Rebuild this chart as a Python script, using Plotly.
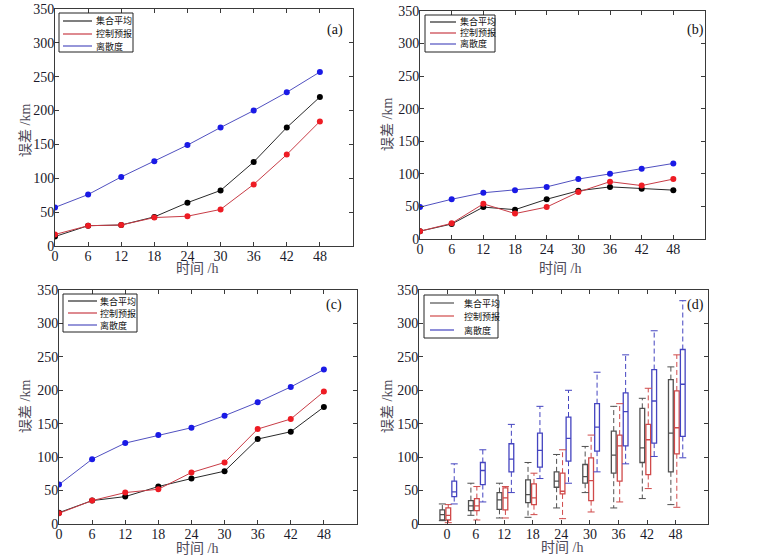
import plotly.graph_objects as go

hours = [0, 6, 12, 18, 24, 30, 36, 42, 48]
names = ["集合平均", "控制预报", "离散度"]

# (a)
a_mean = [14, 30, 31, 43, 64, 82, 124, 175, 220]
a_ctrl = [17, 30, 31, 42, 44, 54, 91, 135, 184]
a_spread = [57, 76, 102, 125, 149, 175, 200, 227, 257]
# (b)
b_mean = [12, 23, 49, 45, 61, 74, 80, 77, 75]
b_ctrl = [12, 24, 54, 39, 49, 72, 88, 82, 92]
b_spread = [49, 61, 71, 75, 80, 92, 100, 108, 116]
# (c)
c_mean = [17, 35, 41, 56, 68, 79, 127, 138, 175]
c_ctrl = [16, 35, 47, 52, 77, 92, 142, 157, 198]
c_spread = [59, 97, 121, 133, 144, 162, 182, 205, 231]

# (d) box stats: lower whisker, q1, median, q3, upper whisker
d_mean_lo = [5, 13, 9, 10, 24, 47, 24, 38, 29]
d_mean_q1 = [6, 20, 22, 32, 55, 61, 76, 92, 78]
d_mean_med = [14, 27, 36, 44, 64, 71, 103, 114, 136]
d_mean_q3 = [21, 35, 47, 66, 78, 89, 139, 173, 216]
d_mean_hi = [30, 61, 61, 92, 104, 116, 176, 188, 235]

d_ctrl_lo = [2, 6, 9, 14, 8, 18, 33, 53, 25]
d_ctrl_q1 = [6, 20, 21, 29, 45, 35, 64, 74, 105]
d_ctrl_med = [13, 27, 39, 39, 49, 65, 117, 126, 144]
d_ctrl_q3 = [24, 38, 54, 60, 76, 99, 133, 149, 199]
d_ctrl_hi = [29, 56, 56, 76, 111, 133, 180, 203, 253]

d_spread_lo = [30, 33, 47, 68, 61, 78, 90, 101, 99]
d_spread_q1 = [41, 59, 78, 85, 94, 109, 117, 121, 131]
d_spread_med = [48, 80, 97, 110, 128, 145, 168, 184, 209]
d_spread_q3 = [64, 92, 120, 136, 160, 180, 196, 231, 261]
d_spread_hi = [90, 111, 149, 176, 200, 227, 253, 289, 334]

SERIF = "Liberation Serif, Noto Sans CJK SC"
CJK = "Noto Sans CJK SC"
W, H = 778, 556


def px(x):
    return x / W


def py(y):
    return 1 - y / H


line_cols = ["#2a2a2a", "#c83c46", "#5050c0"]
mark_cols = ["#000000", "#ee1c24", "#1a1ae6"]
box_cols = ["#505050", "#d04a4a", "#4444c0"]
box_off = [-1.0, 0.25, 1.5]

# plot areas in page pixels: x0, x1, y0(top), y1(bottom)
panels = [(55, 353, 9, 246), (420, 705, 11, 239), (59, 357, 290, 524), (419, 708, 290, 524)]
labels = ["(a)", "(b)", "(c)", "(d)"]
labpos = [(335, 30), (695, 30), (334, 305), (695, 305)]
xtitle_pos = [(197, 268), (560, 268), (197, 548), (562, 547)]
ytitle_pos = [(25, 131), (388, 125), (25, 407), (387, 407)]
# legend: box x0, y0, x1, y1, line x0, x1, text x, row ys
legends = [
    (59, 13, 133, 52, 63, 92, 94, (21, 34, 46)),
    (425, 15, 495, 52, 430, 456, 458, (22, 33, 44)),
    (63, 294, 137, 332, 68, 97, 98, (301, 313, 325)),
    (424, 295, 498, 338, 430, 454, 462, (303, 316, 330)),
]

fig = go.Figure()

line_sets = [(a_mean, a_ctrl, a_spread), (b_mean, b_ctrl, b_spread), (c_mean, c_ctrl, c_spread)]
for p, series in enumerate(line_sets):
    ax = "" if p == 0 else str(p + 1)
    for k, ys in enumerate(series):
        fig.add_trace(go.Scatter(
            x=hours, y=ys, mode="lines+markers", name=names[k],
            line=dict(color=line_cols[k], width=1),
            marker=dict(color=mark_cols[k], size=6),
            xaxis="x" + ax, yaxis="y" + ax, showlegend=False,
        ))

box_sets = [
    (d_mean_lo, d_mean_q1, d_mean_med, d_mean_q3, d_mean_hi),
    (d_ctrl_lo, d_ctrl_q1, d_ctrl_med, d_ctrl_q3, d_ctrl_hi),
    (d_spread_lo, d_spread_q1, d_spread_med, d_spread_q3, d_spread_hi),
]
for k, (lo, q1, med, q3, hi) in enumerate(box_sets):
    xs = [h + box_off[k] for h in hours]
    fig.add_trace(go.Box(
        x=xs, q1=q1, median=med, q3=q3, lowerfence=q1, upperfence=q3,
        width=1.0, whiskerwidth=0, fillcolor="rgba(0,0,0,0)",
        line=dict(color=box_cols[k], width=1.3), name=names[k],
        showlegend=False, hoverinfo="skip",
        xaxis="x4", yaxis="y4",
    ))
    wx, wy = [], []
    for x, a, b, c, d in zip(xs, lo, q1, q3, hi):
        wx += [x, x, None, x, x, None]
        wy += [c, d, None, b, a, None]
    fig.add_trace(go.Scatter(
        x=wx, y=wy, mode="lines", line=dict(color=box_cols[k], width=1, dash="5px,3px"),
        showlegend=False, hoverinfo="skip", xaxis="x4", yaxis="y4",
    ))
    fig.add_trace(go.Scatter(
        x=xs + xs, y=lo + hi, mode="markers",
        marker=dict(symbol="line-ew", size=5, line=dict(color=box_cols[k], width=1)),
        showlegend=False, hoverinfo="skip", xaxis="x4", yaxis="y4",
    ))


def axis(**kw):
    d = dict(showline=True, mirror="ticks", linecolor="#3a3a3a", linewidth=1,
             ticks="inside", ticklen=4, tickcolor="#3a3a3a", showgrid=False,
             zeroline=False, automargin=False, ticklabeloverflow="allow",
             tickfont=dict(family=SERIF, size=14, color="#1a1a2a"))
    d.update(kw)
    return d


def note(x, y, text, font, **kw):
    d = dict(x=px(x), y=py(y), xref="paper", yref="paper", text=text,
             showarrow=False, font=font, xanchor="center", yanchor="middle")
    d.update(kw)
    return d


title_font = dict(family=SERIF, size=14, color="#4e4a58")
annotations = []
shapes = []
layout = dict(
    width=W, height=H, margin=dict(l=0, r=0, t=0, b=0),
    paper_bgcolor="white", plot_bgcolor="white", showlegend=False,
)
for p, (x0, x1, y0, y1) in enumerate(panels):
    ax = "" if p == 0 else str(p + 1)
    xr = [-5.9, 54.8] if p == 3 else [0, 54]
    layout["xaxis" + ax] = axis(
        domain=[px(x0), px(x1)], range=xr, tickvals=hours,
        anchor="y" + ax, ticklabelstandoff=-3,
    )
    layout["yaxis" + ax] = axis(
        domain=[py(y1), py(y0)], range=[0, 350], dtick=50,
        anchor="x" + ax, ticklabelstandoff=-3,
    )
    annotations.append(note(*xtitle_pos[p], "时间 /h", title_font))
    annotations.append(note(*ytitle_pos[p], "误差 /km", title_font, textangle=-90))
    annotations.append(note(*labpos[p], labels[p], dict(family=SERIF, size=14, color="#111")))

    bx0, by0, bx1, by1, lx0, lx1, textx, rows = legends[p]
    shapes.append(dict(type="rect", xref="paper", yref="paper",
                       x0=px(bx0), x1=px(bx1), y0=py(by1), y1=py(by0),
                       line=dict(color="#222", width=1), fillcolor="white", layer="above"))
    cols = box_cols if p == 3 else line_cols
    for k, ry in enumerate(rows):
        shapes.append(dict(type="line", xref="paper", yref="paper",
                           x0=px(lx0), x1=px(lx1), y0=py(ry), y1=py(ry),
                           line=dict(color=cols[k], width=1.2), layer="above"))
        annotations.append(note(textx, ry, names[k], dict(family=CJK, size=9, color="#111"),
                                xanchor="left"))

layout["annotations"] = annotations
layout["shapes"] = shapes
fig.update_layout(**layout)
# drop the browser's default 8px body margin so the figure fills the window
fig.write_html("out.html", config={"displayModeBar": False},
               post_script="document.body.style.margin='0px';")
